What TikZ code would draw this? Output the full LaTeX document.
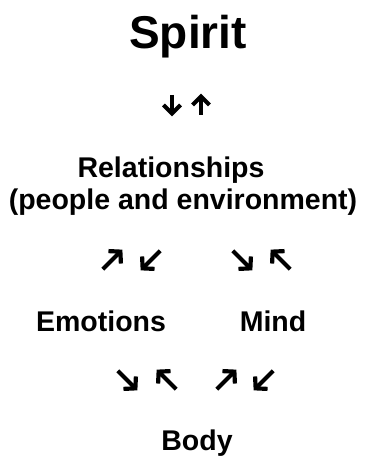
\documentclass[tikz,border=0pt]{standalone}
\usepackage{fontspec}
\setmainfont{Liberation Sans}
\begin{document}
\begin{tikzpicture}[x=1pt,y=1pt,
  big/.style={inner sep=0pt,anchor=base,font=\fontsize{46}{50}\selectfont\bfseries},
  lbl/.style={inner sep=0pt,anchor=base,font=\fontsize{28.5}{32}\selectfont\bfseries},
  glyph/.style={line width=4.2pt,line join=miter,line cap=butt,black},
  straw/.pic={\draw[glyph] (-10,0) -- (8,0); \draw[glyph] (0,8.5) -- (8.5,0) -- (0,-8.5);},
  diaw/.pic={\draw[glyph] (-13,0) -- (11,0); \draw[glyph] (3.8,8.8) -- (11.8,0) -- (3.8,-8.8);}]
\useasboundingbox (0,0) rectangle (370,457);
\node[big] (spirit) at (188,{457-49}) {Spirit};
\pic[rotate=-90] (a1) at (172,{457-105}) {straw};
\pic[rotate=90] (a2) at (201,{457-105}) {straw};
\node[lbl] (rel) at (171,{457-178}) {Relationships};
\node[lbl] (rel2) at (183,{457-210}) {(people and environment)};
\pic[rotate=45] (b1) at (112,{457-260}) {diaw};
\pic[rotate=-135] (b2) at (151,{457-260}) {diaw};
\pic[rotate=-45] (b3) at (242,{457-260}) {diaw};
\pic[rotate=135] (b4) at (281,{457-260}) {diaw};
\node[lbl] (emo) at (101,{457-332}) {Emotions};
\node[lbl] (mind) at (273,{457-332}) {Mind};
\pic[rotate=-45] (c1) at (127,{457-380}) {diaw};
\pic[rotate=135] (c2) at (167,{457-380}) {diaw};
\pic[rotate=45] (c3) at (226,{457-380}) {diaw};
\pic[rotate=-135] (c4) at (264,{457-380}) {diaw};
\node[lbl] (body) at (197,{457-451}) {Body};
\end{tikzpicture}
\end{document}
